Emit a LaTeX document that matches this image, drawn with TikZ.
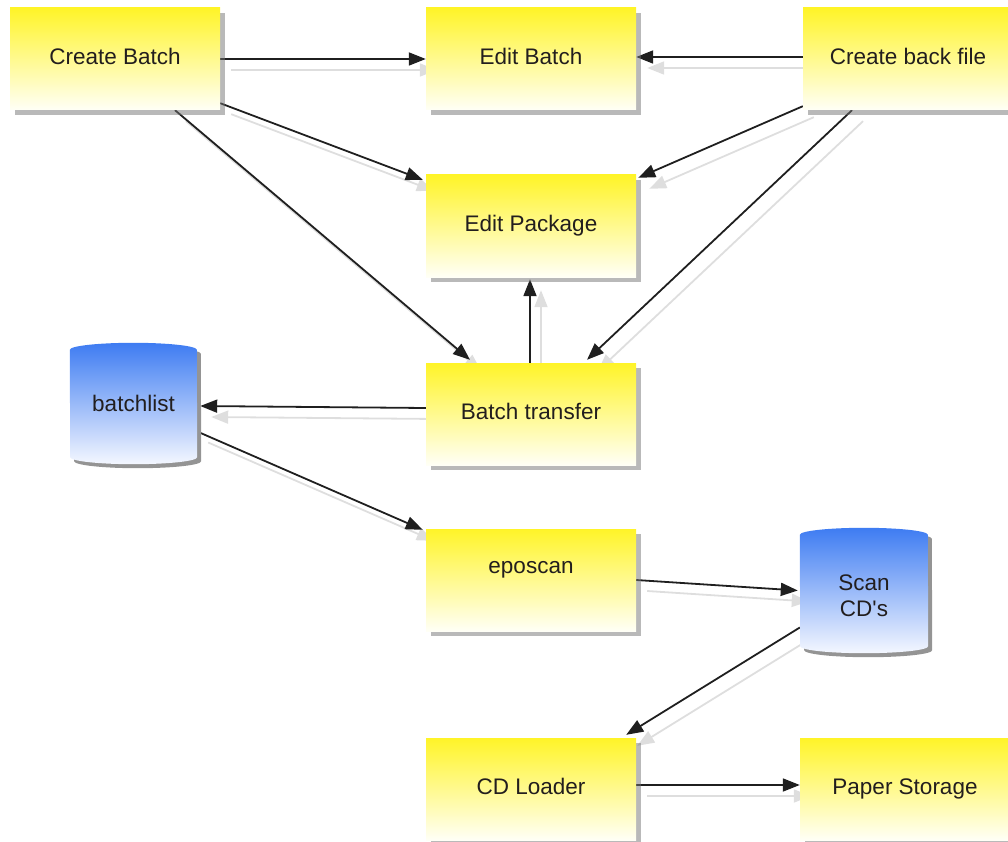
\documentclass[tikz,border=0pt]{standalone}
\usepackage{fontspec}
\setmainfont{Liberation Sans}[Ligatures=TeXOff]
\usetikzlibrary{arrows.meta,shadows}

% connectors sit below the drum bodies, which sit below the boxes
\pgfdeclarelayer{links}
\pgfdeclarelayer{drums}
\pgfsetlayers{links,drums,main}

\definecolor{padtop}{RGB}{255,244,40}
\definecolor{padbot}{RGB}{255,255,246}
\definecolor{drumtop}{RGB}{62,124,242}
\definecolor{drumbot}{RGB}{244,247,255}
\definecolor{inktext}{RGB}{34,30,30}

\tikzset{
  labelfont/.style={font=\fontsize{22.5}{26}\selectfont, text=inktext},
  stage/.style={rectangle, minimum width=210pt, minimum height=102pt, inner sep=0pt,
    top color=padtop, bottom color=padbot,
    drop shadow={shadow xshift=5pt, shadow yshift=-5pt, fill=black!55},
    labelfont, text height=16pt, text depth=5pt},
  store/.style={rectangle, inner sep=0pt, labelfont, align=center},
  link/.style={draw=black!88, line width=1.8pt, -{Triangle[length=17pt,width=13pt]}},
  linkghost/.style={draw=black!13, fill=black!13, line width=1.8pt,
    -{Triangle[length=17pt,width=13pt]}, transform canvas={xshift=11pt,yshift=-11pt}},
}

% a connector with its pale offset shadow
\newcommand\flowlink[2]{%
  \draw[linkghost] #1 -- #2;
  \draw[link] #1 -- #2;
}

% database drum drawn around a named node: #1 node, #2 half width
\newcommand\drumbody[2]{%
  \begin{pgfonlayer}{drums}
    \fill[black!42, transform canvas={xshift=4pt,yshift=-4pt}]
      ([yshift=-7pt]#1.north west) arc[start angle=180, end angle=0, x radius=#2, y radius=7pt]
      -- ([yshift=7pt]#1.south east) arc[start angle=0, end angle=-180, x radius=#2, y radius=7pt]
      -- cycle;
    \shade[top color=drumtop, bottom color=drumbot]
      ([yshift=-7pt]#1.north west) arc[start angle=180, end angle=0, x radius=#2, y radius=7pt]
      -- ([yshift=7pt]#1.south east) arc[start angle=0, end angle=-180, x radius=#2, y radius=7pt]
      -- cycle;
  \end{pgfonlayer}
}

\begin{document}
\begin{tikzpicture}[x=1pt, y=1pt]
  \useasboundingbox (0,0) rectangle (1008,-842);

  % process boxes
  \node[stage] (cb)  at (115,-59)   {Create Batch};
  \node[stage] (eb)  at (531,-59)   {Edit Batch};
  \node[stage] (cbf) at (908,-59)   {Create back file};
  \node[stage] (ep)  at (531,-226)  {Edit Package};
  \node[stage] (bt)  at (531,-414)  {Batch transfer};
  \node[stage, text depth=30pt] (es) at (531,-580) {eposcan};
  \node[stage] (cl)  at (531,-789)  {CD Loader};
  \node[stage] (ps)  at (905,-789)  {Paper Storage};

  % data stores
  \node[store, minimum width=127pt, minimum height=121pt] (bl) at (133.5,-403.5) {batchlist};
  \node[store, minimum width=128pt, minimum height=125pt,
        label={[labelfont, align=center, yshift=-5pt]center:Scan\\CD's}] (sc) at (864,-590.5) {};
  \drumbody{bl}{63.5pt}
  \drumbody{sc}{64pt}

  % connectors
  \begin{pgfonlayer}{links}
    \flowlink{(cb.east)}{(eb.west)}
    \flowlink{([yshift=2pt]cbf.west)}{([yshift=2pt]eb.east)}
    \flowlink{([yshift=7pt]cb.south east)}{([yshift=-5pt,xshift=-3pt]ep.north west)}
    \flowlink{([yshift=4pt]cbf.south west)}{([yshift=-3pt,xshift=2pt]ep.north east)}
    \flowlink{([xshift=60pt]cb.south)}{([xshift=-61pt,yshift=3pt]bt.north)}
    \flowlink{([xshift=-56pt]cbf.south)}{([xshift=56pt,yshift=3pt]bt.north)}
    \flowlink{([xshift=-1pt]bt.north)}{([xshift=-1pt,yshift=-2pt]ep.south)}
    \flowlink{([yshift=6pt]bt.west)}{([yshift=-2.5pt,xshift=3pt]bl.east)}
    \flowlink{([yshift=-28pt]bl.east)}{([xshift=-3pt,yshift=-1pt]es.north west)}
    \flowlink{(es.east)}{([xshift=-2pt]sc.west)}
    \flowlink{([yshift=-37pt]sc.west)}{([xshift=-10pt,yshift=3pt]cl.north east)}
    \flowlink{([yshift=4pt]cl.east)}{([yshift=4pt]ps.west)}
  \end{pgfonlayer}
\end{tikzpicture}
\end{document}
